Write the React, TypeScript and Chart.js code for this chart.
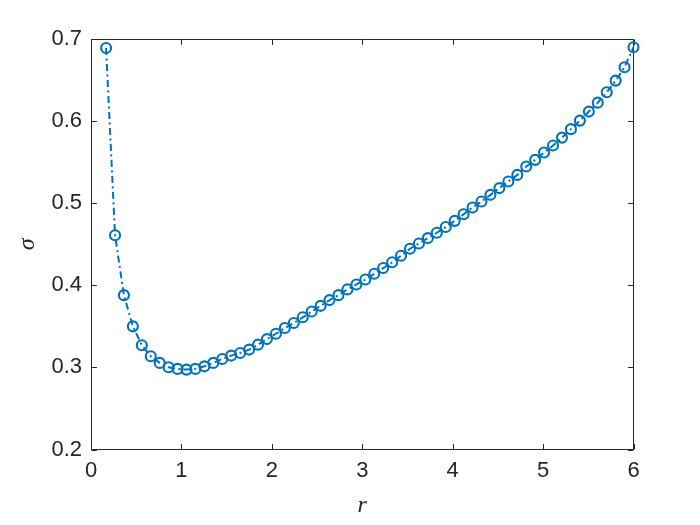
import React, { useEffect, useRef } from "react";
import { Chart, registerables } from "chart.js";

Chart.register(...registerables);

const rValues = [
  0.167, 0.266, 0.364, 0.463, 0.562, 0.661, 0.76, 0.859, 0.958, 1.056,
  1.155, 1.254, 1.353, 1.452, 1.551, 1.65, 1.749, 1.847, 1.946, 2.045,
  2.144, 2.243, 2.342, 2.441, 2.54, 2.638, 2.737, 2.836, 2.935, 3.034,
  3.133, 3.232, 3.331, 3.429, 3.528, 3.627, 3.726, 3.825, 3.924, 4.023,
  4.121, 4.22, 4.319, 4.418, 4.517, 4.616, 4.715, 4.814, 4.913, 5.011,
  5.11, 5.209, 5.308, 5.407, 5.506, 5.605, 5.704, 5.803, 5.901, 6.0,
];

const sigmaValues = [
  0.689, 0.461, 0.388, 0.35, 0.327, 0.3135, 0.3055, 0.3001, 0.2982, 0.2973,
  0.2982, 0.3013, 0.3055, 0.3103, 0.3144, 0.3176, 0.3217, 0.3277, 0.3345, 0.341,
  0.348, 0.354, 0.361, 0.368, 0.375, 0.382, 0.388, 0.395, 0.401, 0.407,
  0.414, 0.421, 0.428, 0.436, 0.4445, 0.451, 0.4575, 0.464, 0.471, 0.4785,
  0.4865, 0.4948, 0.5021, 0.5102, 0.5184, 0.5264, 0.5345, 0.5447, 0.5528, 0.5617,
  0.5702, 0.5799, 0.5902, 0.6006, 0.6116, 0.6225, 0.6352, 0.6493, 0.6656, 0.69,
];

const xTicks = [0, 1, 2, 3, 4, 5, 6];
const yTicks = [0.2, 0.3, 0.4, 0.5, 0.6, 0.7];
const xLabel = "r";
const yLabel = "σ";

const AXIS_COLOR = "#262626";
const LINE_COLOR = "#0072BD";
const TICK_FONT = "'Liberation Sans', Arial, Helvetica, sans-serif";
const LABEL_FONT = "'Liberation Serif', 'DejaVu Serif', serif";

const boxPlugin = {
  id: "matlabBox",
  beforeDatasetsDraw(chart: any) {
    const { ctx, chartArea: a, scales } = chart;
    const L = Math.round(a.left) + 0.5;
    const R = Math.round(a.right) - 0.5;
    const T = Math.round(a.top) + 0.5;
    const B = Math.round(a.bottom) - 0.5;
    const tl = 5.4;
    ctx.save();
    ctx.strokeStyle = AXIS_COLOR;
    ctx.lineWidth = 1;
    ctx.beginPath();
    ctx.rect(L, T, R - L, B - T);
    for (const v of xTicks) {
      const px = Math.round(scales.x.getPixelForValue(v)) + 0.5;
      ctx.moveTo(px, B);
      ctx.lineTo(px, B - tl);
      ctx.moveTo(px, T);
      ctx.lineTo(px, T + tl);
    }
    for (const v of yTicks) {
      const py = Math.round(scales.y.getPixelForValue(v)) + 0.5;
      ctx.moveTo(L, py);
      ctx.lineTo(L + tl, py);
      ctx.moveTo(R, py);
      ctx.lineTo(R - tl, py);
    }
    ctx.stroke();
    ctx.restore();
  },
};

export default function App() {
  const canvasRef = useRef<HTMLCanvasElement | null>(null);

  useEffect(() => {
    const canvas = canvasRef.current;
    if (!canvas) return;
    const chart = new Chart(canvas, {
      type: "line",
      data: {
        datasets: [
          {
            data: rValues.map((r, i) => ({ x: r, y: sigmaValues[i] })),
            borderColor: LINE_COLOR,
            backgroundColor: "rgba(0,0,0,0)",
            borderWidth: 2,
            borderDash: [7, 3.5, 2, 3.5],
            pointStyle: "circle",
            pointRadius: 5,
            pointBorderWidth: 2.1,
            pointBorderColor: LINE_COLOR,
            pointBackgroundColor: "rgba(0,0,0,0)",
            tension: 0,
            fill: false,
            clip: false,
          } as any,
        ],
      },
      options: {
        responsive: false,
        animation: false,
        events: [],
        layout: { padding: { top: 39, right: 66.5, left: 0, bottom: 0 } },
        plugins: {
          legend: { display: false },
          tooltip: { enabled: false },
          title: { display: false },
        },
        scales: {
          x: {
            type: "linear",
            min: 0,
            max: 6,
            afterBuildTicks: (s: any) => {
              s.ticks = xTicks.map((v) => ({ value: v }));
            },
            afterFit: (s: any) => {
              s.height = 75.5;
            },
            grid: { display: false, drawTicks: false },
            border: { display: false },
            ticks: {
              color: AXIS_COLOR,
              padding: 8,
              maxRotation: 0,
              font: { family: TICK_FONT, size: 22 },
              callback: (v: any) => String(v),
            },
            title: {
              display: true,
              text: xLabel,
              color: AXIS_COLOR,
              font: { family: LABEL_FONT, size: 24, style: "italic" },
              padding: { top: 0, bottom: 5 },
            },
          },
          y: {
            type: "linear",
            min: 0.2,
            max: 0.7,
            afterBuildTicks: (s: any) => {
              s.ticks = yTicks.map((v) => ({ value: v }));
            },
            afterFit: (s: any) => {
              s.width = 91;
            },
            grid: { display: false, drawTicks: false },
            border: { display: false },
            ticks: {
              color: AXIS_COLOR,
              padding: 9,
              font: { family: TICK_FONT, size: 22 },
              callback: (v: any) => Number(v).toFixed(1),
            },
            title: {
              display: true,
              text: yLabel,
              color: AXIS_COLOR,
              font: { family: LABEL_FONT, size: 24, style: "italic" },
              padding: { top: 13, bottom: 0 },
            },
          },
        },
      },
      plugins: [boxPlugin],
    });
    return () => chart.destroy();
  }, []);

  return (
    <div style={{ position: "fixed", left: 0, top: 0, width: 700, height: 525, background: "#ffffff" }}>
      <canvas ref={canvasRef} width={700} height={525} />
    </div>
  );
}
